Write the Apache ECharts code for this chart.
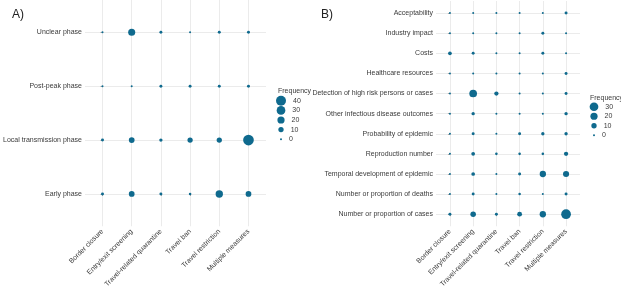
<!DOCTYPE html>
<html>
<head>
<meta charset="utf-8">
<script src="https://cdn.jsdelivr.net/npm/echarts@6/dist/echarts.min.js"></script>
<style>html,body{margin:0;background:#fff}#main{width:621px;height:290px}</style>
</head>
<body>
<div id="main"></div>
<script>
// columns shared by both panels
var measures = ['Border closure', 'Entry/exit screening', 'Travel-related quarantine', 'Travel ban', 'Travel restriction', 'Multiple measures'];

// panel A, rows bottom to top
var phases = ['Early phase', 'Local transmission phase', 'Post-peak phase', 'Unclear phase'];
var earlyPhase = [2, 12, 2, 1, 21, 12];
var localPhase = [2, 12, 3, 10, 10, 46];
var postPeakPhase = [0, 0, 2, 2, 2, 2];
var unclearPhase = [0, 19, 2, 0, 2, 2];

// panel B, rows bottom to top
var outcomes = ['Number or proportion of cases', 'Number or proportion of deaths', 'Temporal development of epidemic', 'Reproduction number', 'Probability of epidemic', 'Other infectious disease outcomes', 'Detection of high risk persons or cases', 'Healthcare resources', 'Costs', 'Industry impact', 'Acceptability'];
var cases = [2, 11, 2, 8, 15, 38];
var deaths = [0, 2, 0, 1, 0, 2];
var temporal = [0, 4, 0, 2, 15, 14];
var reproduction = [0, 4, 1, 1, 1, 6];
var probability = [0, 2, 0, 2, 3, 3];
var otherDisease = [0, 3, 0, 0, 0, 3];
var detection = [0, 23, 6, 0, 0, 2];
var healthcare = [0, 0, 0, 0, 0, 2];
var costs = [4, 2, 0, 0, 2, 0];
var industry = [0, 0, 0, 0, 2, 0];
var acceptability = [0, 0, 0, 0, 0, 2];

var legendA = [0, 10, 20, 30, 40];
var legendB = [0, 10, 20, 30];

var dotColor = '#0f6a8e';
var textColor = '#3a3a3a';
var font = "'Liberation Sans', Arial, sans-serif";

function dotSize(v) {
    return Math.sqrt(4 + 2.4 * v);
}

function toPoints(rows) {
    var out = [];
    rows.forEach(function(row, r) {
        row.forEach(function(v, c) {
            out.push([c, r, v]);
        });
    });
    return out;
}

function range(n) {
    var a = [];
    for (var i = 0; i < n; i++) a.push(i);
    return a;
}

function xAxisFor(grid) {
    var n = measures.length;
    return {
        type: 'value', gridIndex: grid, min: -0.6, max: n - 0.4,
        axisLine: {show: false},
        axisTick: {show: true, length: 2, lineStyle: {color: '#aaa'}, customValues: range(n)},
        axisLabel: {
            customValues: range(n), rotate: 45, fontSize: 7, color: textColor, fontFamily: font, margin: 4,
            formatter: function(v) { return measures[Math.round(v)]; }
        },
        splitLine: {show: true, lineStyle: {color: '#ebebeb', width: 1}}
    };
}

function yAxisFor(grid, names) {
    var n = names.length;
    return {
        type: 'value', gridIndex: grid, min: -0.6, max: n - 0.4,
        axisLine: {show: false},
        axisTick: {show: true, length: 2, lineStyle: {color: '#aaa'}, customValues: range(n)},
        axisLabel: {
            customValues: range(n), fontSize: 7, color: textColor, fontFamily: font, margin: 3,
            formatter: function(v) { return names[Math.round(v)]; }
        },
        splitLine: {show: true, lineStyle: {color: '#ebebeb', width: 1}}
    };
}

function legendSeries(grid, vals) {
    return {
        type: 'scatter', xAxisIndex: grid, yAxisIndex: grid,
        data: vals.map(function(v, i) { return [0, i, v]; }),
        symbolSize: function(d) { return dotSize(d[2]); },
        itemStyle: {color: dotColor, opacity: 1},
        label: {show: true, position: 'right', distance: 7, fontSize: 7, color: textColor, fontFamily: font,
            formatter: function(p) { return p.value[2]; }},
        silent: true
    };
}

function hiddenAxis(grid, type, n) {
    var ax = {type: type, gridIndex: grid, show: false};
    if (type === 'category') ax.data = range(n);
    else { ax.min = -1; ax.max = 1; }
    return ax;
}

var chart = echarts.init(document.getElementById('main'));

var option = {
    animation: false,
    textStyle: {fontFamily: font},
    grid: [
        {left: 80, top: 0, width: 186, height: 231},
        {left: 436, top: 1, width: 144, height: 230},
        {left: 276, top: 96, width: 10, height: 48},
        {left: 589, top: 102, width: 10, height: 38}
    ],
    title: [
        {text: 'A)', left: 7, top: 4, textStyle: {fontSize: 12, fontWeight: 'normal', color: '#222', fontFamily: font}},
        {text: 'B)', left: 316, top: 4, textStyle: {fontSize: 12, fontWeight: 'normal', color: '#222', fontFamily: font}},
        {text: 'Frequency', left: 273, top: 83, textStyle: {fontSize: 7, fontWeight: 'normal', color: textColor, fontFamily: font}},
        {text: 'Frequency', left: 585, top: 90, textStyle: {fontSize: 7, fontWeight: 'normal', color: textColor, fontFamily: font}}
    ],
    xAxis: [xAxisFor(0), xAxisFor(1), hiddenAxis(2, 'value'), hiddenAxis(3, 'value')],
    yAxis: [yAxisFor(0, phases), yAxisFor(1, outcomes),
        hiddenAxis(2, 'category', legendA.length), hiddenAxis(3, 'category', legendB.length)],
    series: [
        {
            type: 'scatter', xAxisIndex: 0, yAxisIndex: 0,
            data: toPoints([earlyPhase, localPhase, postPeakPhase, unclearPhase]),
            symbolSize: function(d) { return dotSize(d[2]); },
            itemStyle: {color: dotColor, opacity: 1}
        },
        {
            type: 'scatter', xAxisIndex: 1, yAxisIndex: 1,
            data: toPoints([cases, deaths, temporal, reproduction, probability, otherDisease,
                detection, healthcare, costs, industry, acceptability]),
            symbolSize: function(d) { return dotSize(d[2]); },
            itemStyle: {color: dotColor, opacity: 1}
        },
        legendSeries(2, legendA),
        legendSeries(3, legendB)
    ]
};

chart.setOption(option);
window.addEventListener('resize', chart.resize);
</script>
</body>
</html>
